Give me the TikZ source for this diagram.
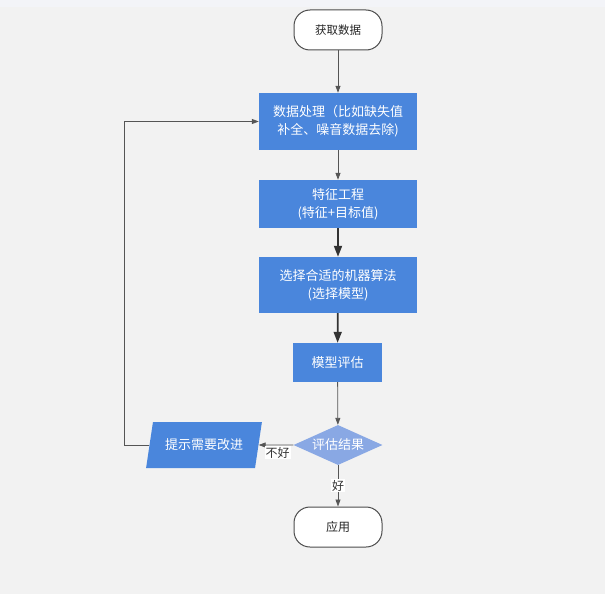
\documentclass[tikz,border=0pt]{standalone}
\usepackage{fontspec}
\setmainfont{Noto Sans CJK SC}
\usetikzlibrary{shapes.geometric,arrows.meta}
\definecolor{boxblue}{RGB}{74,134,220}
\definecolor{judgeblue}{RGB}{137,168,228}
\definecolor{bggray}{RGB}{242,242,242}
\definecolor{topgray}{RGB}{243,244,248}
\definecolor{linegray}{RGB}{85,85,85}
\begin{document}
\begin{tikzpicture}[x=1pt,y=-1pt,
    terminal/.style={draw=black!70, line width=1pt, fill=white, rounded corners=16pt,
        minimum width=88pt, minimum height=40pt, text=black!85, font=\fontsize{12}{15}\selectfont},
    procbox/.style={fill=boxblue, text=white, align=center, minimum width=158pt,
        font=\fontsize{13}{18}\selectfont},
    thin arrow/.style={draw=linegray, line width=0.8pt, -{Triangle[length=7pt,width=5pt]}},
    thick arrow/.style={draw=black!80, line width=1.8pt, -{Triangle[length=11pt,width=8pt]}},
    answer/.style={fill=white, inner sep=1pt, text=black!80, font=\fontsize{12}{14}\selectfont}]
    % background
    \fill[bggray] (0,0) rectangle (605,594);
    \fill[topgray] (0,0) rectangle (605,7);
    \useasboundingbox (0,0) rectangle (605,594);
    % nodes
    \node[terminal, font=\fontsize{11.5}{14}\selectfont] (start) at (338,30) {获取数据};
    \node[procbox, minimum height=57pt] (prep) at (338,121.5) {数据处理（比如缺失值\\补全、噪音数据去除)};
    \node[procbox, minimum height=48pt] (feat) at (338,204) {特征工程\\(特征+目标值)};
    \node[procbox, minimum height=56pt] (algo) at (338,285) {选择合适的机器算法\\(选择模型)};
    \node[procbox, minimum width=89pt, minimum height=39pt] (evalm) at (337.5,362.5) {模型评估};
    \node[diamond, fill=judgeblue, text=white, aspect=2.2, inner sep=0pt,
        minimum width=89pt, minimum height=40pt, font=\fontsize{13}{16}\selectfont] (judge) at (338,445) {评估结果};
    \node[trapezium, trapezium left angle=73, trapezium right angle=107, trapezium stretches=true,
        fill=boxblue, text=white, minimum width=116pt, minimum height=46pt,
        font=\fontsize{13}{16}\selectfont] (hint) at (204,445) {提示需要改进};
    \node[terminal] (apply) at (338,527) {应用};
    % connectors
    \draw[thin arrow] (start) -- (prep);
    \draw[thin arrow] (prep) -- (feat);
    \draw[thick arrow] (feat) -- (algo);
    \draw[thick arrow] (algo) -- (evalm);
    \draw[thin arrow] (evalm) -- (judge);
    \draw[thin arrow] (judge.west) -- node[answer, below, pos=0.45, yshift=-1pt] {不好} (hint.east);
    \draw[thin arrow] (judge) -- node[answer] {好} (apply);
    \draw[thin arrow] (hint.west) -- ++(-25,0) |- (prep.west);
\end{tikzpicture}
\end{document}
